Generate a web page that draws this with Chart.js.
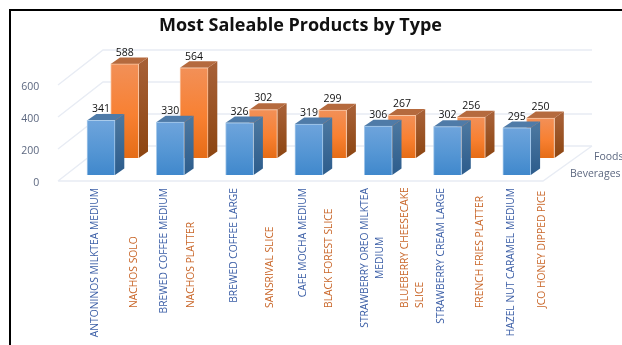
<!DOCTYPE html>
<html>
<head>
<meta charset="utf-8">
<title>Most Saleable Products by Type</title>
<script src="https://cdn.jsdelivr.net/npm/chart.js@4/dist/chart.umd.min.js"></script>
<style>
    html, body { margin: 0; padding: 0; background: #fff; overflow: hidden; }
    #wrap { position: relative; width: 622px; height: 345px; }
    #frame { position: absolute; left: 9px; top: 9px; right: 0; bottom: 0; border-left: 2px solid #000; border-top: 2px solid #000; }
    canvas { position: absolute; left: 0; top: 0; }
</style>
</head>
<body>
<div id="wrap">
    <div id="frame"></div>
    <canvas id="salesChart" width="622" height="345"></canvas>
</div>
<script>
const beverageNames = [
    ['ANTONINOS MILKTEA MEDIUM'],
    ['BREWED COFFEE MEDIUM'],
    ['BREWED COFFEE LARGE'],
    ['CAFE MOCHA MEDIUM'],
    ['STRAWBERRY OREO MILKTEA', 'MEDIUM'],
    ['STRAWBERRY CREAM LARGE'],
    ['HAZEL NUT CARAMEL MEDIUM']
];
const foodNames = [
    ['NACHOS SOLO'],
    ['NACHOS PLATTER'],
    ['SANSRIVAL SLICE'],
    ['BLACK FOREST SLICE'],
    ['BLUEBERRY CHEESECAKE', 'SLICE'],
    ['FRENCH FRIES PLATTER'],
    ['JCO HONEY DIPPED PICE']
];
const beverages = [341, 330, 326, 319, 306, 302, 295];
const foods = [588, 564, 302, 299, 267, 256, 250];
const yTicks = [0, 200, 400, 600];

// how far the food captions sit right of each group's centre
const foodCaptionShift = [33, 21, 30, 20, 34, 33, 25];

const labelFont = '"Open Sans", sans-serif';
const axisColor = '#5d6880';
const wallColor = '#e8ecf4';

// fake depth: each series sits on its own row of the floor
const rows = [
    { dx: 0, dy: -6, top: '#4f7ba8', sideA: '#4a769f', sideB: '#2c5c8c', frontA: '#6ea4dc', frontM: '#5596d4', frontB: '#4088cc', edge: '#a9cbeb', caption: '#3b5ea6' },
    { dx: 23.7, dy: -23, top: '#b56a3e', sideA: '#a65f35', sideB: '#8c4511', frontA: '#f29058', frontM: '#f88031', frontB: '#e56c16', edge: '#f9c6a4', caption: '#c9672a' }
];
const barDepth = { x: 9.3, y: -6.4 };

function frontGradient(c) {
    const row = rows[c.datasetIndex];
    const y = c.chart.scales.y;
    const top = y ? y.getPixelForValue(c.raw) : NaN;
    const base = y ? y.getPixelForValue(0) : NaN;
    if (!isFinite(top) || !isFinite(base)) return row.frontB;
    const g = c.chart.ctx.createLinearGradient(0, top, 0, base);
    g.addColorStop(0, row.frontA);
    g.addColorStop(0.55, row.frontM);
    g.addColorStop(1, row.frontB);
    return g;
}

function face(ctx, pts, fill) {
    ctx.beginPath();
    pts.forEach((p, i) => i ? ctx.lineTo(p[0], p[1]) : ctx.moveTo(p[0], p[1]));
    ctx.closePath();
    ctx.fillStyle = fill;
    ctx.fill();
}

// back wall, side wall and floor
const wallsPlugin = {
    id: 'walls',
    afterLayout(chart) {
        // title is centred a bit left of the canvas
        chart.titleBlock.left = 49.5;
    },
    beforeDatasetsDraw(chart) {
        const { ctx, scales: { y } } = chart;
        const left = 58, backLeft = 103, backRight = 592, frontRight = 543, rise = -35;
        ctx.save();
        ctx.strokeStyle = wallColor;
        ctx.lineWidth = 1.4;
        ctx.beginPath();
        yTicks.forEach(v => {
            const py = y.getPixelForValue(v);
            ctx.moveTo(left, py);
            ctx.lineTo(backLeft, py + rise);
            ctx.lineTo(backRight, py + rise);
        });
        const floor = y.getPixelForValue(0);
        ctx.moveTo(left, floor);
        ctx.lineTo(frontRight, floor);
        ctx.lineTo(backRight, floor + rise);
        ctx.stroke();
        ctx.restore();
    }
};

// shifts each series onto its row and adds the side and top faces
const barsPlugin = {
    id: 'bars3d',
    beforeDatasetDraw(chart, args) {
        const { ctx } = chart;
        const row = rows[args.index];
        ctx.save();
        ctx.translate(row.dx, row.dy);
        args.meta.data.forEach(bar => {
            const r = bar.x + bar.width / 2, l = bar.x - bar.width / 2;
            const side = ctx.createLinearGradient(0, bar.y, 0, bar.base);
            side.addColorStop(0, row.sideA);
            side.addColorStop(1, row.sideB);
            face(ctx, [[r, bar.y], [r + barDepth.x, bar.y + barDepth.y], [r + barDepth.x, bar.base + barDepth.y], [r, bar.base]], side);
            face(ctx, [[l, bar.y], [l + barDepth.x, bar.y + barDepth.y], [r + barDepth.x, bar.y + barDepth.y], [r, bar.y]], row.top);
        });
    },
    afterDatasetDraw(chart) {
        chart.ctx.restore();
    },
    afterDatasetsDraw(chart) {
        const { ctx } = chart;
        ctx.save();
        // value labels
        ctx.font = '10.5px ' + labelFont;
        ctx.fillStyle = '#111';
        ctx.textAlign = 'center';
        ctx.textBaseline = 'middle';
        [1, 0].forEach(i => {
            const row = rows[i];
            chart.getDatasetMeta(i).data.forEach((bar, k) => {
                ctx.fillText(chart.data.datasets[i].data[k], bar.x + row.dx, bar.y + row.dy + barDepth.y - 4.8);
            });
        });
        // category captions, turned to read upwards
        ctx.font = '10.3px ' + labelFont;
        chart.getDatasetMeta(0).data.forEach((bar, k) => {
            const bev = beverageNames[k];
            ctx.fillStyle = rows[0].caption;
            const longest = Math.max(...bev.map(t => ctx.measureText(t).width));
            bev.forEach((t, n) => {
                ctx.save();
                ctx.translate(bar.x - 6 + (n - (bev.length - 1) / 2) * 15, 188 + longest / 2);
                ctx.rotate(-Math.PI / 2);
                ctx.textAlign = 'center';
                ctx.fillText(t, 0, 0);
                ctx.restore();
            });
            const food = foodNames[k];
            ctx.fillStyle = rows[1].caption;
            food.forEach((t, n) => {
                ctx.save();
                ctx.translate(bar.x + foodCaptionShift[k] + (n - (food.length - 1) / 2) * 15, 308);
                ctx.rotate(-Math.PI / 2);
                ctx.textAlign = 'left';
                ctx.fillText(t, 0, 0);
                ctx.restore();
            });
        });
        // series names at the end of the depth axis
        ctx.font = '10.5px ' + labelFont;
        ctx.fillStyle = axisColor;
        ctx.textAlign = 'left';
        ctx.fillText(chart.data.datasets[1].label, 594, 157);
        ctx.fillText(chart.data.datasets[0].label, 570, 174);
        ctx.restore();
    }
};

new Chart(document.getElementById('salesChart'), {
    type: 'bar',
    data: {
        labels: beverageNames,
        datasets: [
            { label: 'Beverages', data: beverages, backgroundColor: frontGradient, borderColor: rows[0].edge, borderWidth: 1, clip: false },
            { label: 'Foods', data: foods, backgroundColor: frontGradient, borderColor: rows[1].edge, borderWidth: 1, clip: false }
        ]
    },
    options: {
        responsive: false,
        animation: false,
        layout: { padding: { left: 0, right: 70.55, top: 0, bottom: 164 } },
        datasets: { bar: { grouped: false, barThickness: 28 } },
        scales: {
            x: {
                afterFit(scale) { scale.height = 0; },
                grid: { display: false },
                border: { display: false },
                ticks: { display: false }
            },
            y: {
                min: 0,
                max: 600,
                afterFit(scale) { scale.width = 66.35; },
                afterBuildTicks(scale) { scale.ticks = yTicks.map(value => ({ value })); },
                grid: { display: false },
                border: { display: false },
                ticks: {
                    padding: 19,
                    color: axisColor,
                    // empty first line drops the number 2px below its tick
                    callback: value => ['', value],
                    font: { family: labelFont, size: 10.5, lineHeight: 0.4 }
                }
            }
        },
        plugins: {
            legend: { display: false },
            tooltip: { enabled: false },
            title: {
                display: true,
                text: 'Most Saleable Products by Type',
                color: '#111',
                font: { family: labelFont, size: 18, weight: 'bold', lineHeight: 1.2 },
                padding: { top: 15, bottom: 48.4 }
            }
        }
    },
    plugins: [wallsPlugin, barsPlugin]
});
</script>
</body>
</html>
